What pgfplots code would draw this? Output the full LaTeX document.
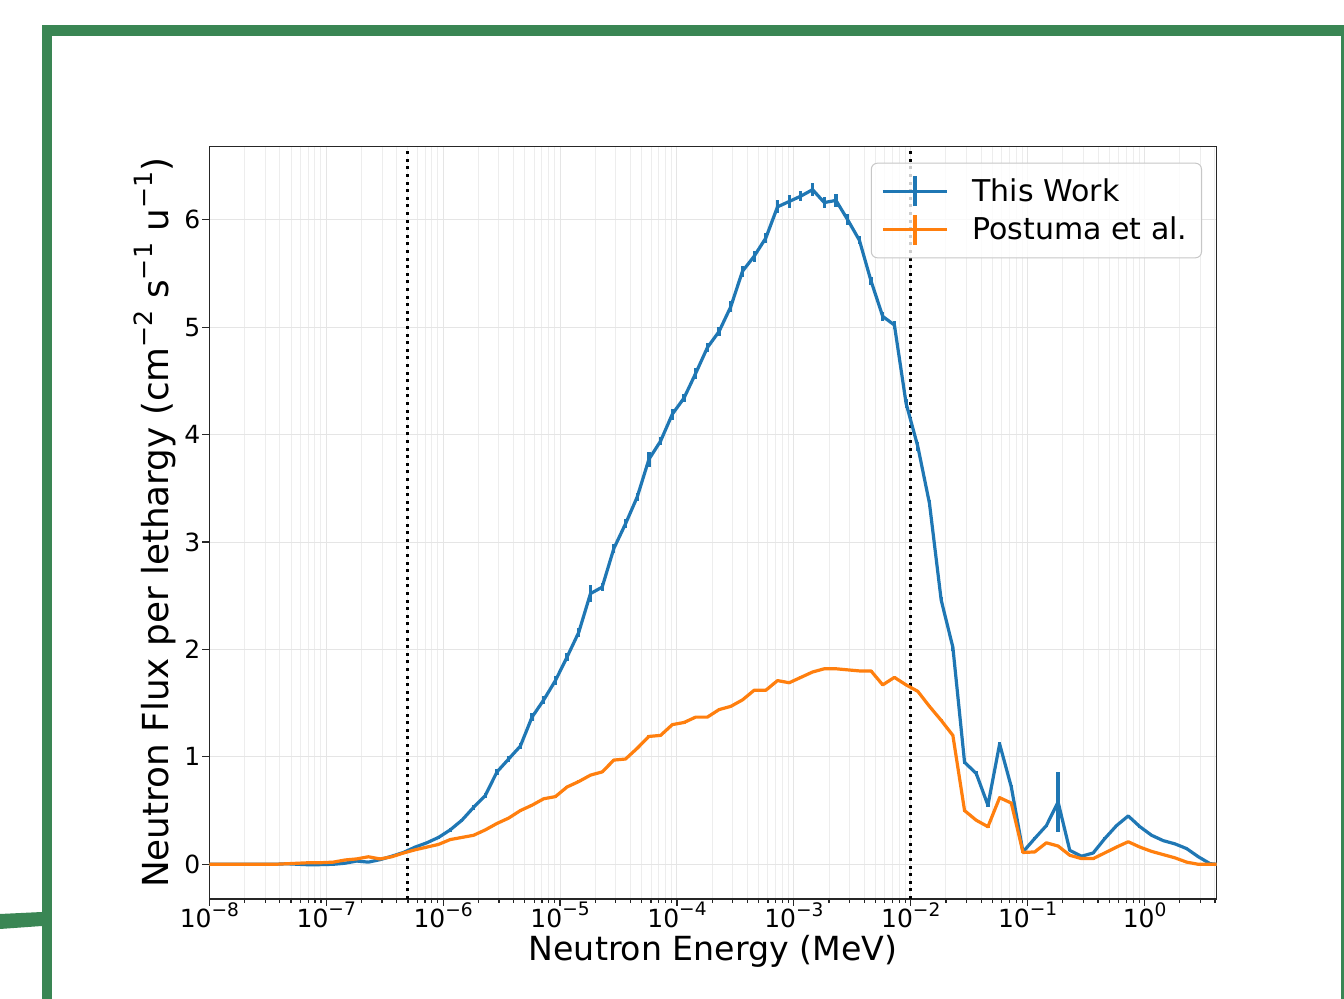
\documentclass[border=0pt]{standalone}
\usepackage{fontspec}
\setmainfont{DejaVu Sans}
\usepackage{pgfplots}
\usepackage{pgfplotstable}
\pgfplotsset{compat=1.18}
\definecolor{mplblue}{HTML}{1F77B4}
\definecolor{mplorange}{HTML}{FF7F0E}
\definecolor{framegreen}{RGB}{58,134,84}
\newcommand\tsup[1]{\raisebox{0.45em}{\fontsize{9.3}{10}\selectfont #1}}
\newcommand\lsup[1]{\raisebox{0.45em}{\fontsize{12.6}{13}\selectfont #1}}

\pgfplotstableread{
x y ey
1.000e-8 0 0
1.148e-8 0 0
1.445e-8 0 0
1.820e-8 0 0
2.291e-8 0 0
2.884e-8 0 0
3.631e-8 0 0
4.571e-8 0.005 0.002
5.754e-8 0 0.002
7.244e-8 -0.005 0.002
9.120e-8 -0.003 0.002
1.148e-7 0 0.002
1.445e-7 0.01 0.003
1.820e-7 0.03 0.003
2.291e-7 0.02 0.003
2.884e-7 0.043 0.004
3.631e-7 0.075 0.005
4.571e-7 0.11 0.006
5.754e-7 0.16 0.008
7.244e-7 0.20 0.01
9.120e-7 0.25 0.01
1.148e-6 0.32 0.015
1.445e-6 0.41 0.015
1.820e-6 0.53 0.02
2.291e-6 0.64 0.02
2.884e-6 0.86 0.025
3.631e-6 0.98 0.03
4.571e-6 1.10 0.03
5.754e-6 1.37 0.035
7.244e-6 1.53 0.035
9.120e-6 1.71 0.04
1.148e-5 1.93 0.04
1.445e-5 2.16 0.04
1.820e-5 2.52 0.08
2.291e-5 2.58 0.04
2.884e-5 2.94 0.04
3.631e-5 3.17 0.04
4.571e-5 3.42 0.04
5.754e-5 3.77 0.07
7.244e-5 3.94 0.04
9.120e-5 4.19 0.05
1.148e-4 4.34 0.04
1.445e-4 4.57 0.05
1.820e-4 4.81 0.04
2.291e-4 4.96 0.04
2.884e-4 5.19 0.05
3.631e-4 5.52 0.05
4.571e-4 5.66 0.05
5.754e-4 5.83 0.05
7.244e-4 6.12 0.06
9.120e-4 6.17 0.06
1.148e-3 6.22 0.05
1.445e-3 6.28 0.06
1.820e-3 6.16 0.05
2.291e-3 6.18 0.06
2.884e-3 6.00 0.05
3.631e-3 5.81 0.04
4.571e-3 5.43 0.04
5.754e-3 5.10 0.04
7.244e-3 5.02 0.04
9.120e-3 4.29 0.04
1.148e-2 3.89 0.04
1.445e-2 3.36 0.03
1.820e-2 2.46 0.03
2.291e-2 2.02 0.03
2.884e-2 0.95 0.02
3.631e-2 0.845 0.02
4.571e-2 0.55 0.02
5.754e-2 1.12 0.02
7.244e-2 0.72 0.02
9.120e-2 0.115 0.01
1.148e-1 0.24 0.01
1.445e-1 0.36 0.01
1.820e-1 0.58 0.28
2.291e-1 0.13 0.01
2.884e-1 0.075 0.01
3.631e-1 0.105 0.01
4.571e-1 0.24 0.01
5.754e-1 0.36 0.01
7.244e-1 0.45 0.01
9.120e-1 0.35 0.01
1.148 0.27 0.01
1.445 0.22 0.01
1.820 0.19 0.01
2.291 0.146 0.01
2.884 0.07 0.01
3.631 0.006 0.005
4.14 0 0
}\bluedata

\pgfplotstableread{
x y ey
1.000e-8 0 0
1.148e-8 0 0
1.445e-8 0 0
1.820e-8 0 0
2.291e-8 0 0
2.884e-8 0 0
3.631e-8 0 0
4.571e-8 0.005 0.001
5.754e-8 0.01 0.001
7.244e-8 0.015 0.001
9.120e-8 0.015 0.001
1.148e-7 0.02 0.001
1.445e-7 0.04 0.002
1.820e-7 0.05 0.002
2.291e-7 0.07 0.002
2.884e-7 0.05 0.002
3.631e-7 0.07 0.002
4.571e-7 0.105 0.003
5.754e-7 0.135 0.003
7.244e-7 0.16 0.004
9.120e-7 0.185 0.004
1.148e-6 0.23 0.005
1.445e-6 0.25 0.005
1.820e-6 0.27 0.006
2.291e-6 0.32 0.006
2.884e-6 0.38 0.007
3.631e-6 0.43 0.008
4.571e-6 0.50 0.008
5.754e-6 0.55 0.009
7.244e-6 0.61 0.01
9.120e-6 0.63 0.01
1.148e-5 0.72 0.01
1.445e-5 0.77 0.01
1.820e-5 0.83 0.01
2.291e-5 0.86 0.01
2.884e-5 0.97 0.01
3.631e-5 0.98 0.01
4.571e-5 1.08 0.01
5.754e-5 1.19 0.01
7.244e-5 1.20 0.01
9.120e-5 1.30 0.01
1.148e-4 1.32 0.01
1.445e-4 1.37 0.01
1.820e-4 1.37 0.01
2.291e-4 1.44 0.01
2.884e-4 1.47 0.01
3.631e-4 1.53 0.01
4.571e-4 1.62 0.01
5.754e-4 1.62 0.01
7.244e-4 1.71 0.01
9.120e-4 1.69 0.01
1.148e-3 1.74 0.01
1.445e-3 1.79 0.01
1.820e-3 1.82 0.01
2.291e-3 1.82 0.01
2.884e-3 1.81 0.01
3.631e-3 1.80 0.01
4.571e-3 1.80 0.01
5.754e-3 1.67 0.01
7.244e-3 1.74 0.01
9.120e-3 1.67 0.01
1.148e-2 1.61 0.01
1.445e-2 1.47 0.01
1.820e-2 1.34 0.01
2.291e-2 1.20 0.01
2.884e-2 0.50 0.01
3.631e-2 0.41 0.01
4.571e-2 0.35 0.01
5.754e-2 0.62 0.01
7.244e-2 0.57 0.01
9.120e-2 0.11 0.005
1.148e-1 0.115 0.005
1.445e-1 0.20 0.005
1.820e-1 0.17 0.005
2.291e-1 0.084 0.005
2.884e-1 0.053 0.005
3.631e-1 0.053 0.005
4.571e-1 0.106 0.005
5.754e-1 0.16 0.005
7.244e-1 0.21 0.005
9.120e-1 0.16 0.005
1.148 0.12 0.005
1.445 0.09 0.005
1.820 0.06 0.005
2.291 0.02 0.005
2.884 0.0 0
3.631 0.0 0
4.14 0 0
}\orangedata

\begin{document}
\begin{tikzpicture}
\fill[white] (0,0) rectangle (672pt,499.5pt);
\path[use as bounding box] (0,0) rectangle (672pt,499.5pt);
% green frame (pixel coordinates, y downwards)
\begin{scope}[x=0.5pt,y=-0.5pt,yshift=499.5pt]
  \fill[framegreen] (41.7,25) rectangle (1344,36);
  \fill[framegreen] (41.7,25) rectangle (52,999);
  \fill[framegreen] (1340.8,25) rectangle (1344,999);
  \fill[framegreen] (0,914) -- (42,912) -- (42,926) -- (0,929) -- cycle;
\end{scope}
\begin{axis}[
  at={(104.7pt,50pt)}, anchor=south west,
  scale only axis, width=503.65pt, height=376.15pt,
  xmode=log, log basis x=10,
  xmin=1e-8, xmax=4.14, ymin=-0.323, ymax=6.68,
  axis line style={black!85, line width=0.6pt},
  tick align=outside, tick pos=left,
  major tick length=3.5pt, minor tick length=2pt,
  every tick/.style={black!85, line width=0.6pt},
  xtick={1e-8,1e-7,1e-6,1e-5,1e-4,1e-3,1e-2,1e-1,1},
  xticklabels={10\tsup{−8},10\tsup{−7},10\tsup{−6},10\tsup{−5},10\tsup{−4},10\tsup{−3},10\tsup{−2},10\tsup{−1},10\tsup{0}},
  minor xtick={2e-8,3e-8,4e-8,5e-8,6e-8,7e-8,8e-8,9e-8,
    2e-7,3e-7,4e-7,5e-7,6e-7,7e-7,8e-7,9e-7,
    2e-6,3e-6,4e-6,5e-6,6e-6,7e-6,8e-6,9e-6,
    2e-5,3e-5,4e-5,5e-5,6e-5,7e-5,8e-5,9e-5,
    2e-4,3e-4,4e-4,5e-4,6e-4,7e-4,8e-4,9e-4,
    2e-3,3e-3,4e-3,5e-3,6e-3,7e-3,8e-3,9e-3,
    2e-2,3e-2,4e-2,5e-2,6e-2,7e-2,8e-2,9e-2,
    2e-1,3e-1,4e-1,5e-1,6e-1,7e-1,8e-1,9e-1,
    2,3,4},
  ytick={0,1,2,3,4,5,6},
  yticklabels={0,1,2,3,4,5,6},
  ticklabel style={font=\fontsize{12.5}{15}\selectfont},
  xticklabel style={yshift=3pt, inner ysep=1pt},
  yticklabel style={xshift=2.5pt},
  grid=both,
  major grid style={black!10, line width=0.5pt},
  minor grid style={black!7, line width=0.5pt},
  xlabel={Neutron Energy (MeV)},
  ylabel={Neutron Flux per lethargy (cm\lsup{−2} s\lsup{−1} u\lsup{−1})},
  xlabel style={font=\fontsize{16.6}{19}\selectfont, at={(axis description cs:0.5,-0.082)}, anchor=base, inner ysep=1pt},
  ylabel style={font=\fontsize{17.9}{20}\selectfont, at={(axis description cs:-0.054,0.5)}, anchor=center},
  legend style={at={(0.9854,0.9787)}, anchor=north east,
    draw=black!22, line width=0.5pt, rounded corners=3pt,
    fill=white, fill opacity=0.8, draw opacity=1, text opacity=1,
    font=\fontsize{15}{18}\selectfont,
    inner xsep=5pt, inner ysep=5.5pt, row sep=2.5pt},
  legend cell align=left,
  legend image code/.code={
    \draw[#1, line width=1.6pt] (0pt,0pt) -- (32pt,0pt);
    \draw[#1, line width=1.6pt] (16pt,-7.5pt) -- (16pt,7.5pt);
    \path (42pt,0pt);
  },
]
\addplot[forget plot, black, line width=1.5pt, dash pattern=on 1.5pt off 2.3pt]
  coordinates {(5e-7,-0.323) (5e-7,6.68)};
\addplot[forget plot, black, line width=1.5pt, dash pattern=on 1.5pt off 2.3pt]
  coordinates {(1e-2,-0.323) (1e-2,6.68)};
\addplot[mplblue, line width=1.6pt, line join=round, mark=none,
  error bars/.cd, y dir=both, y explicit,
  error mark=none, error bar style={line width=1.6pt, mplblue}]
  table[x=x, y=y, y error=ey] {\bluedata};
\addlegendentry{This Work}
\addplot[mplorange, line width=1.6pt, line join=round, mark=none,
  error bars/.cd, y dir=both, y explicit,
  error mark=none, error bar style={line width=1.6pt, mplorange}]
  table[x=x, y=y, y error=ey] {\orangedata};
\addlegendentry{Postuma et al.}
\node[anchor=base west, inner sep=0pt, font=\fontsize{12.5}{15}\selectfont]
  at (rel axis cs:0,1) [yshift=2pt, xshift=0.6pt] {1e8};
\end{axis}
\end{tikzpicture}
\end{document}
